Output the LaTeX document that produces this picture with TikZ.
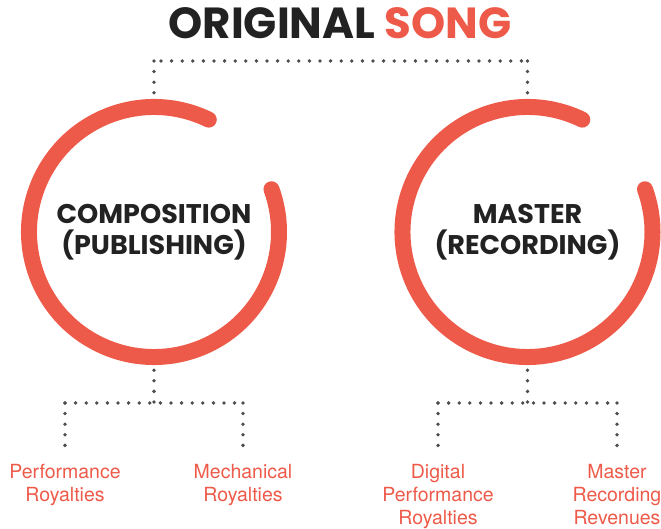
\documentclass[tikz,border=0pt]{standalone}
\usepackage{fontspec}
\setmainfont{TeX Gyre Heros}
\newfontfamily\headfont{Poppins}
\usetikzlibrary{calc}
\definecolor{songred}{HTML}{EE5A49}
\definecolor{dotgray}{HTML}{4E4E50}
\definecolor{inkblack}{HTML}{222222}
\begin{document}
\begin{tikzpicture}[x=1pt,y=1pt,
  ring/.style={draw=songred, line width=16pt, line cap=round},
  dots/.style={draw=dotgray, line width=3.8pt, line cap=round, dash pattern=on 0pt off 10.6pt},
  head/.style={font=\headfont\bfseries\fontsize{27}{31}\selectfont, text=inkblack, align=center},
  leaf/.style={font=\fontsize{19.5}{23}\selectfont, text=songred, align=center, inner sep=0pt, anchor=north},
  hub/.style={circle, minimum size=266pt, inner sep=0pt}]
\useasboundingbox (0,0) rectangle (661,529);

% title
\node[font=\headfont\bfseries\fontsize{43.5}{50}\selectfont, text=inkblack, inner sep=0pt] (title) at (340,506) {ORIGINAL \textcolor{songred}{SONG}};

% hubs
\node[hub] (comp) at (154,297) {};
\node[hub] (mast) at (527.5,297) {};
\draw[ring] (comp.center) ++(64:125) arc[start angle=64, end angle=380, radius=125];
\draw[ring] (mast.center) ++(64:125) arc[start angle=64, end angle=380, radius=125];
\node[head] (compt) at (comp.center) {COMPOSITION\\(PUBLISHING)};
\node[head] (mastt) at (mast.center) {MASTER\\(RECORDING)};

% leaves
\node[leaf] (perf) at (65,64.8) {Performance\\Royalties};
\node[leaf] (mech) at (243,64.8) {Mechanical\\Royalties};
\node[leaf] (digi) at (438,64.8) {Digital\\Performance\\Royalties};
\node[leaf] (mrec) at (617,64.8) {Master\\Recording\\Revenues};

% connector coordinates
\coordinate (topbar) at (340,468);
\coordinate (lbar) at (154,126);
\coordinate (rbar) at (527.5,126);

% top connector
\draw[dots] ([yshift=6pt]comp.north) -- (comp.north |- topbar);
\draw[dots] (comp.north |- topbar) ++(7,0) -- (mast.north |- topbar);
\draw[dots] ([yshift=6pt]mast.north) -- (mast.north |- topbar);

% left tree
\draw[dots] ([yshift=-5pt]comp.south) -- (lbar);
\draw[dots] (perf.north |- lbar) -- (mech.north |- lbar);
\draw[dots] ([yshift=18.8pt]perf.north) -- (perf.north |- lbar);
\draw[dots] ([yshift=18.8pt]mech.north) -- (mech.north |- lbar);

% right tree
\draw[dots] ([yshift=-5pt]mast.south) -- (rbar);
\draw[dots] (digi.north |- rbar) -- (mrec.north |- rbar);
\draw[dots] ([yshift=18.8pt]digi.north) -- (digi.north |- rbar);
\draw[dots] ([yshift=18.8pt]mrec.north) -- (mrec.north |- rbar);
\end{tikzpicture}
\end{document}
